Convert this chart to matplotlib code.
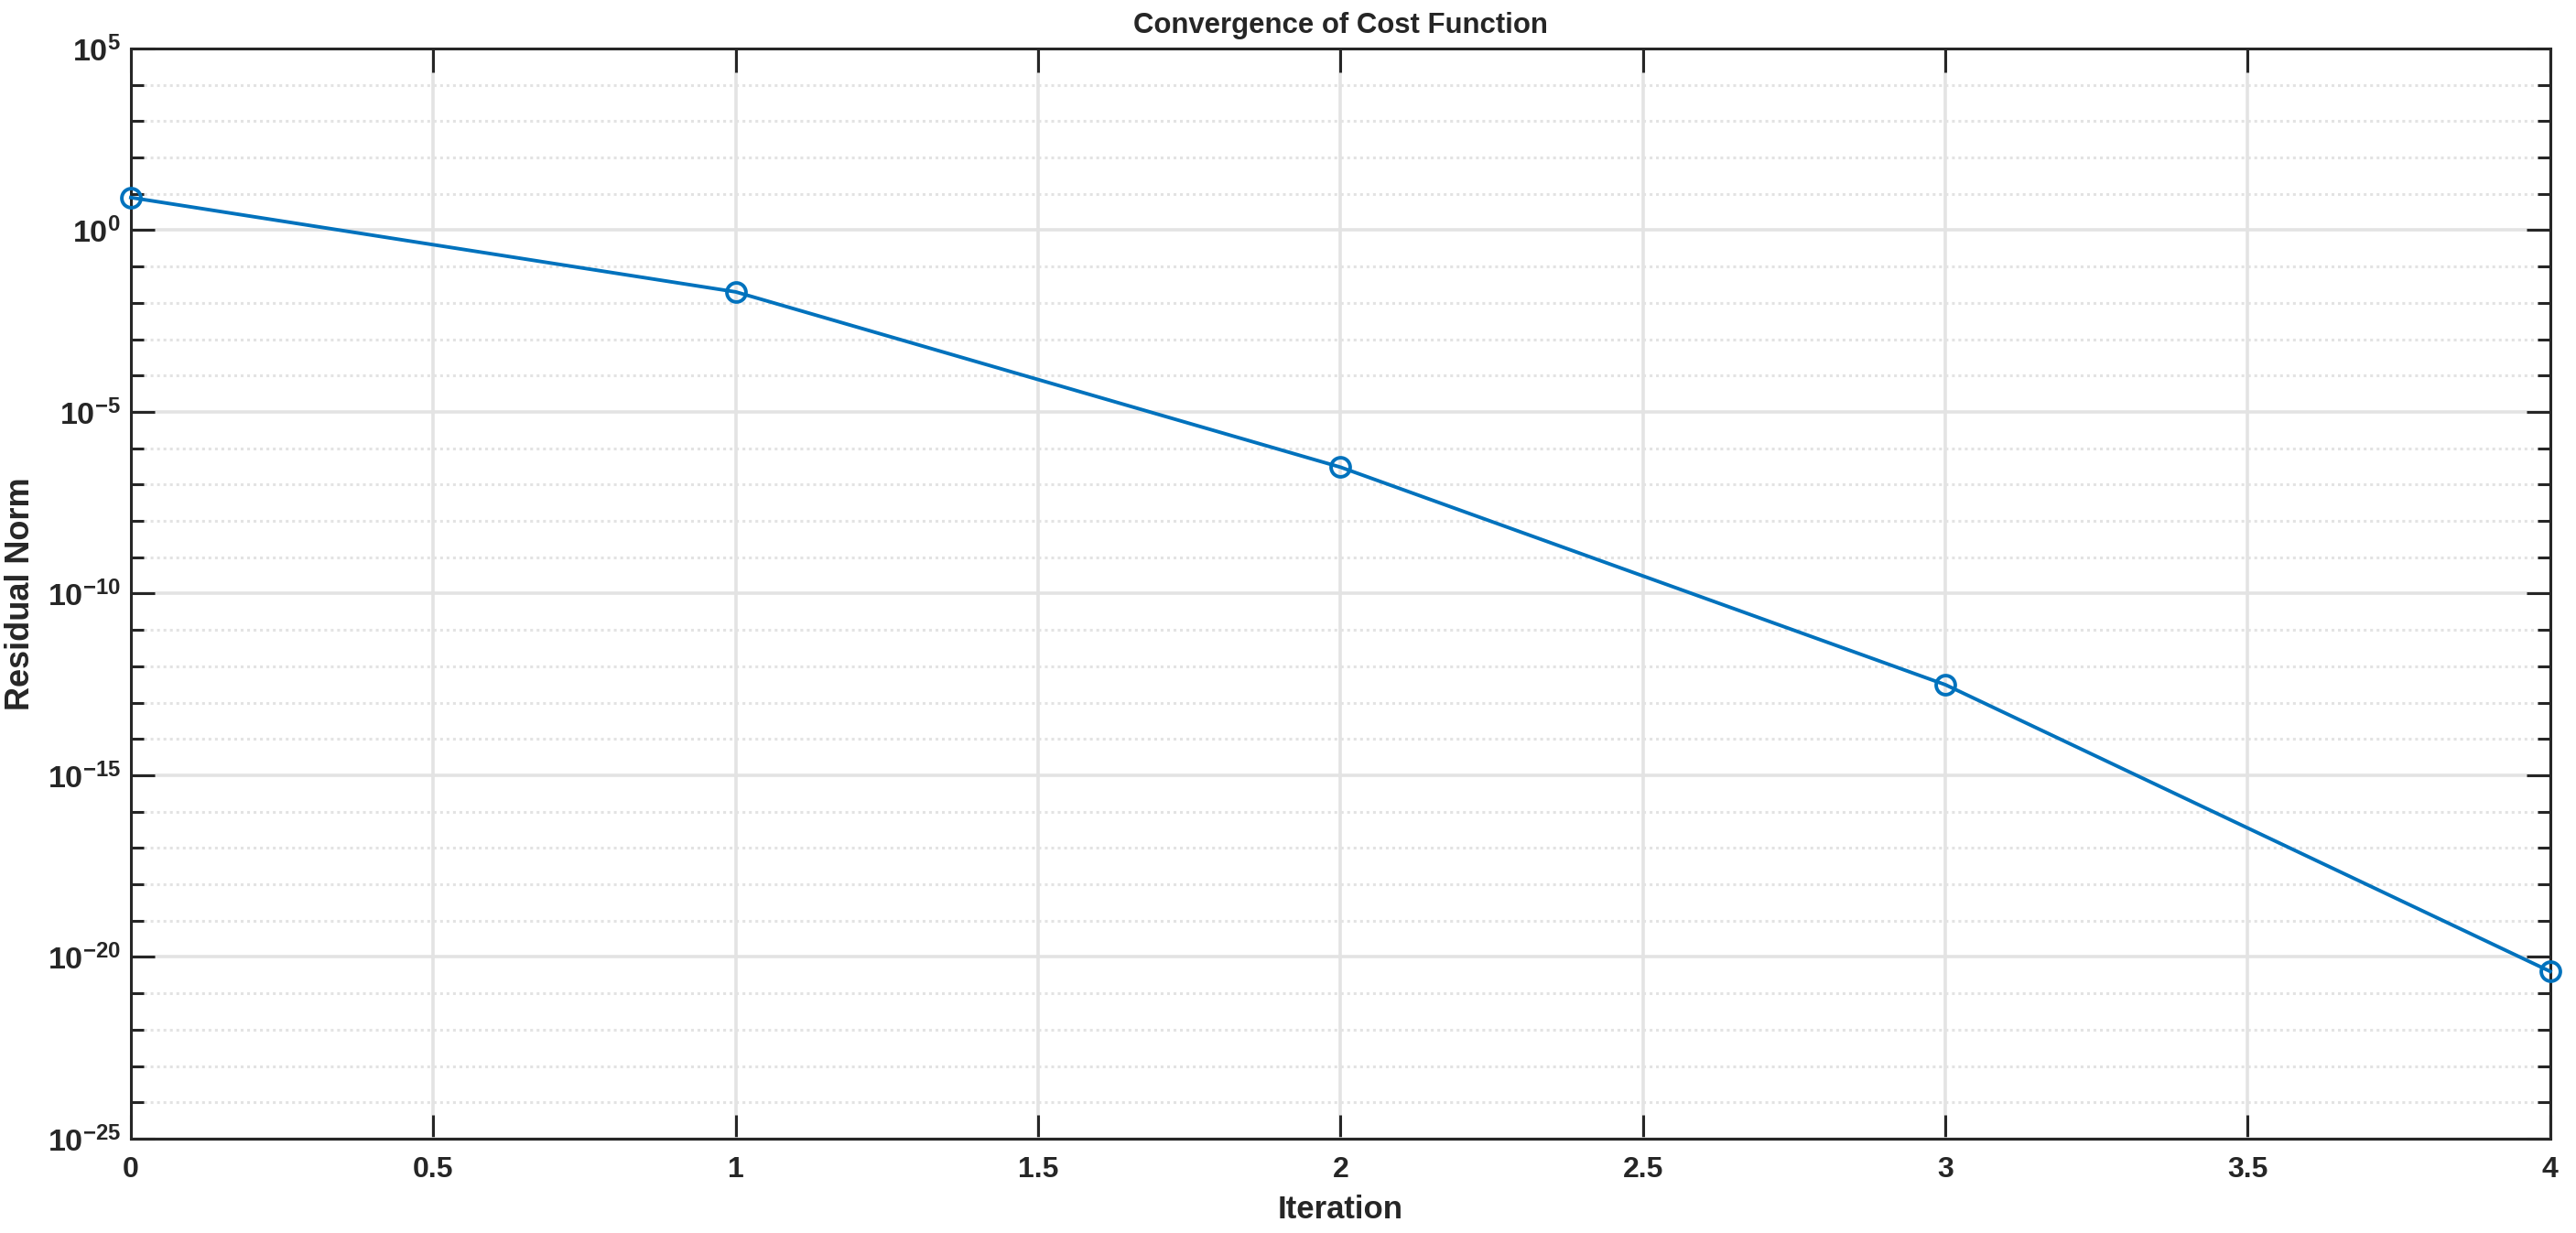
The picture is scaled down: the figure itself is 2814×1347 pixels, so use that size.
import numpy as np
import matplotlib
matplotlib.use("Agg")
import matplotlib.pyplot as plt
from matplotlib.ticker import NullFormatter, FixedLocator

plt.rcParams['font.family'] = ['Liberation Sans', 'DejaVu Sans']
plt.rcParams['font.weight'] = 'bold'
plt.rcParams['mathtext.fontset'] = 'custom'
plt.rcParams['mathtext.rm'] = 'Liberation Sans:bold'
plt.rcParams['mathtext.bf'] = 'Liberation Sans:bold'
plt.rcParams['mathtext.default'] = 'rm'

iterations = [0, 1, 2, 3, 4]
residual = [7.9, 2.0e-2, 3.0e-7, 3.1e-13, 4.0e-21]

major_y = [1e-25, 1e-20, 1e-15, 1e-10, 1e-5, 1e0, 1e5]
minor_y = [10.0**k for k in range(-25, 6) if k % 5 != 0]
x_ticks = np.arange(0, 4.01, 0.5)

axc = "#262626"
linec = "#0072BD"
gridc = "#e3e3e3"

fig = plt.figure(figsize=(14.07, 6.735), dpi=200)
ax = fig.add_axes([0.0508, 0.0765, 0.9392, 0.8842])

ax.semilogy(iterations, residual, "-o", color=linec, lw=1.4,
            markersize=7.5, markerfacecolor="none", markeredgewidth=1.4,
            clip_on=False, zorder=3)

ax.set_xlim(0, 4)
ax.set_ylim(1e-25, 1e5)
ax.set_xticks(x_ticks)
ax.set_xticklabels([f"{v:g}" for v in x_ticks])
ax.yaxis.set_major_locator(FixedLocator(major_y))
ax.yaxis.set_minor_locator(FixedLocator(minor_y))
ax.yaxis.set_minor_formatter(NullFormatter())

ax.grid(True, which="major", color=gridc, lw=1.3, ls="-")
ax.grid(True, which="minor", axis="y", color=gridc, lw=1.1, ls=(0, (1, 1.3)))
ax.set_axisbelow(True)

for s in ax.spines.values():
    s.set_color(axc)
    s.set_linewidth(1.1)
ax.tick_params(which="both", direction="in", top=True, right=True, colors=axc,
               width=1.1)
ax.tick_params(which="major", length=9.5)
ax.tick_params(which="minor", length=5)
ax.tick_params(axis="x", labelsize=11.5, pad=7)
ax.tick_params(axis="y", labelsize=12.3, pad=4)
for lab in ax.get_xticklabels() + ax.get_yticklabels():
    lab.set_fontweight("bold")

ax.set_title("Convergence of Cost Function", fontsize=11.2, fontweight="bold",
             color=axc, pad=6)
ax.set_xlabel("Iteration", fontsize=12.5, fontweight="bold", color=axc, labelpad=4)
ax.set_ylabel("Residual Norm", fontsize=13, fontweight="bold", color=axc)
ax.yaxis.set_label_coords(-0.039, 0.5)

fig.savefig("out.png", dpi=200, facecolor="white")
